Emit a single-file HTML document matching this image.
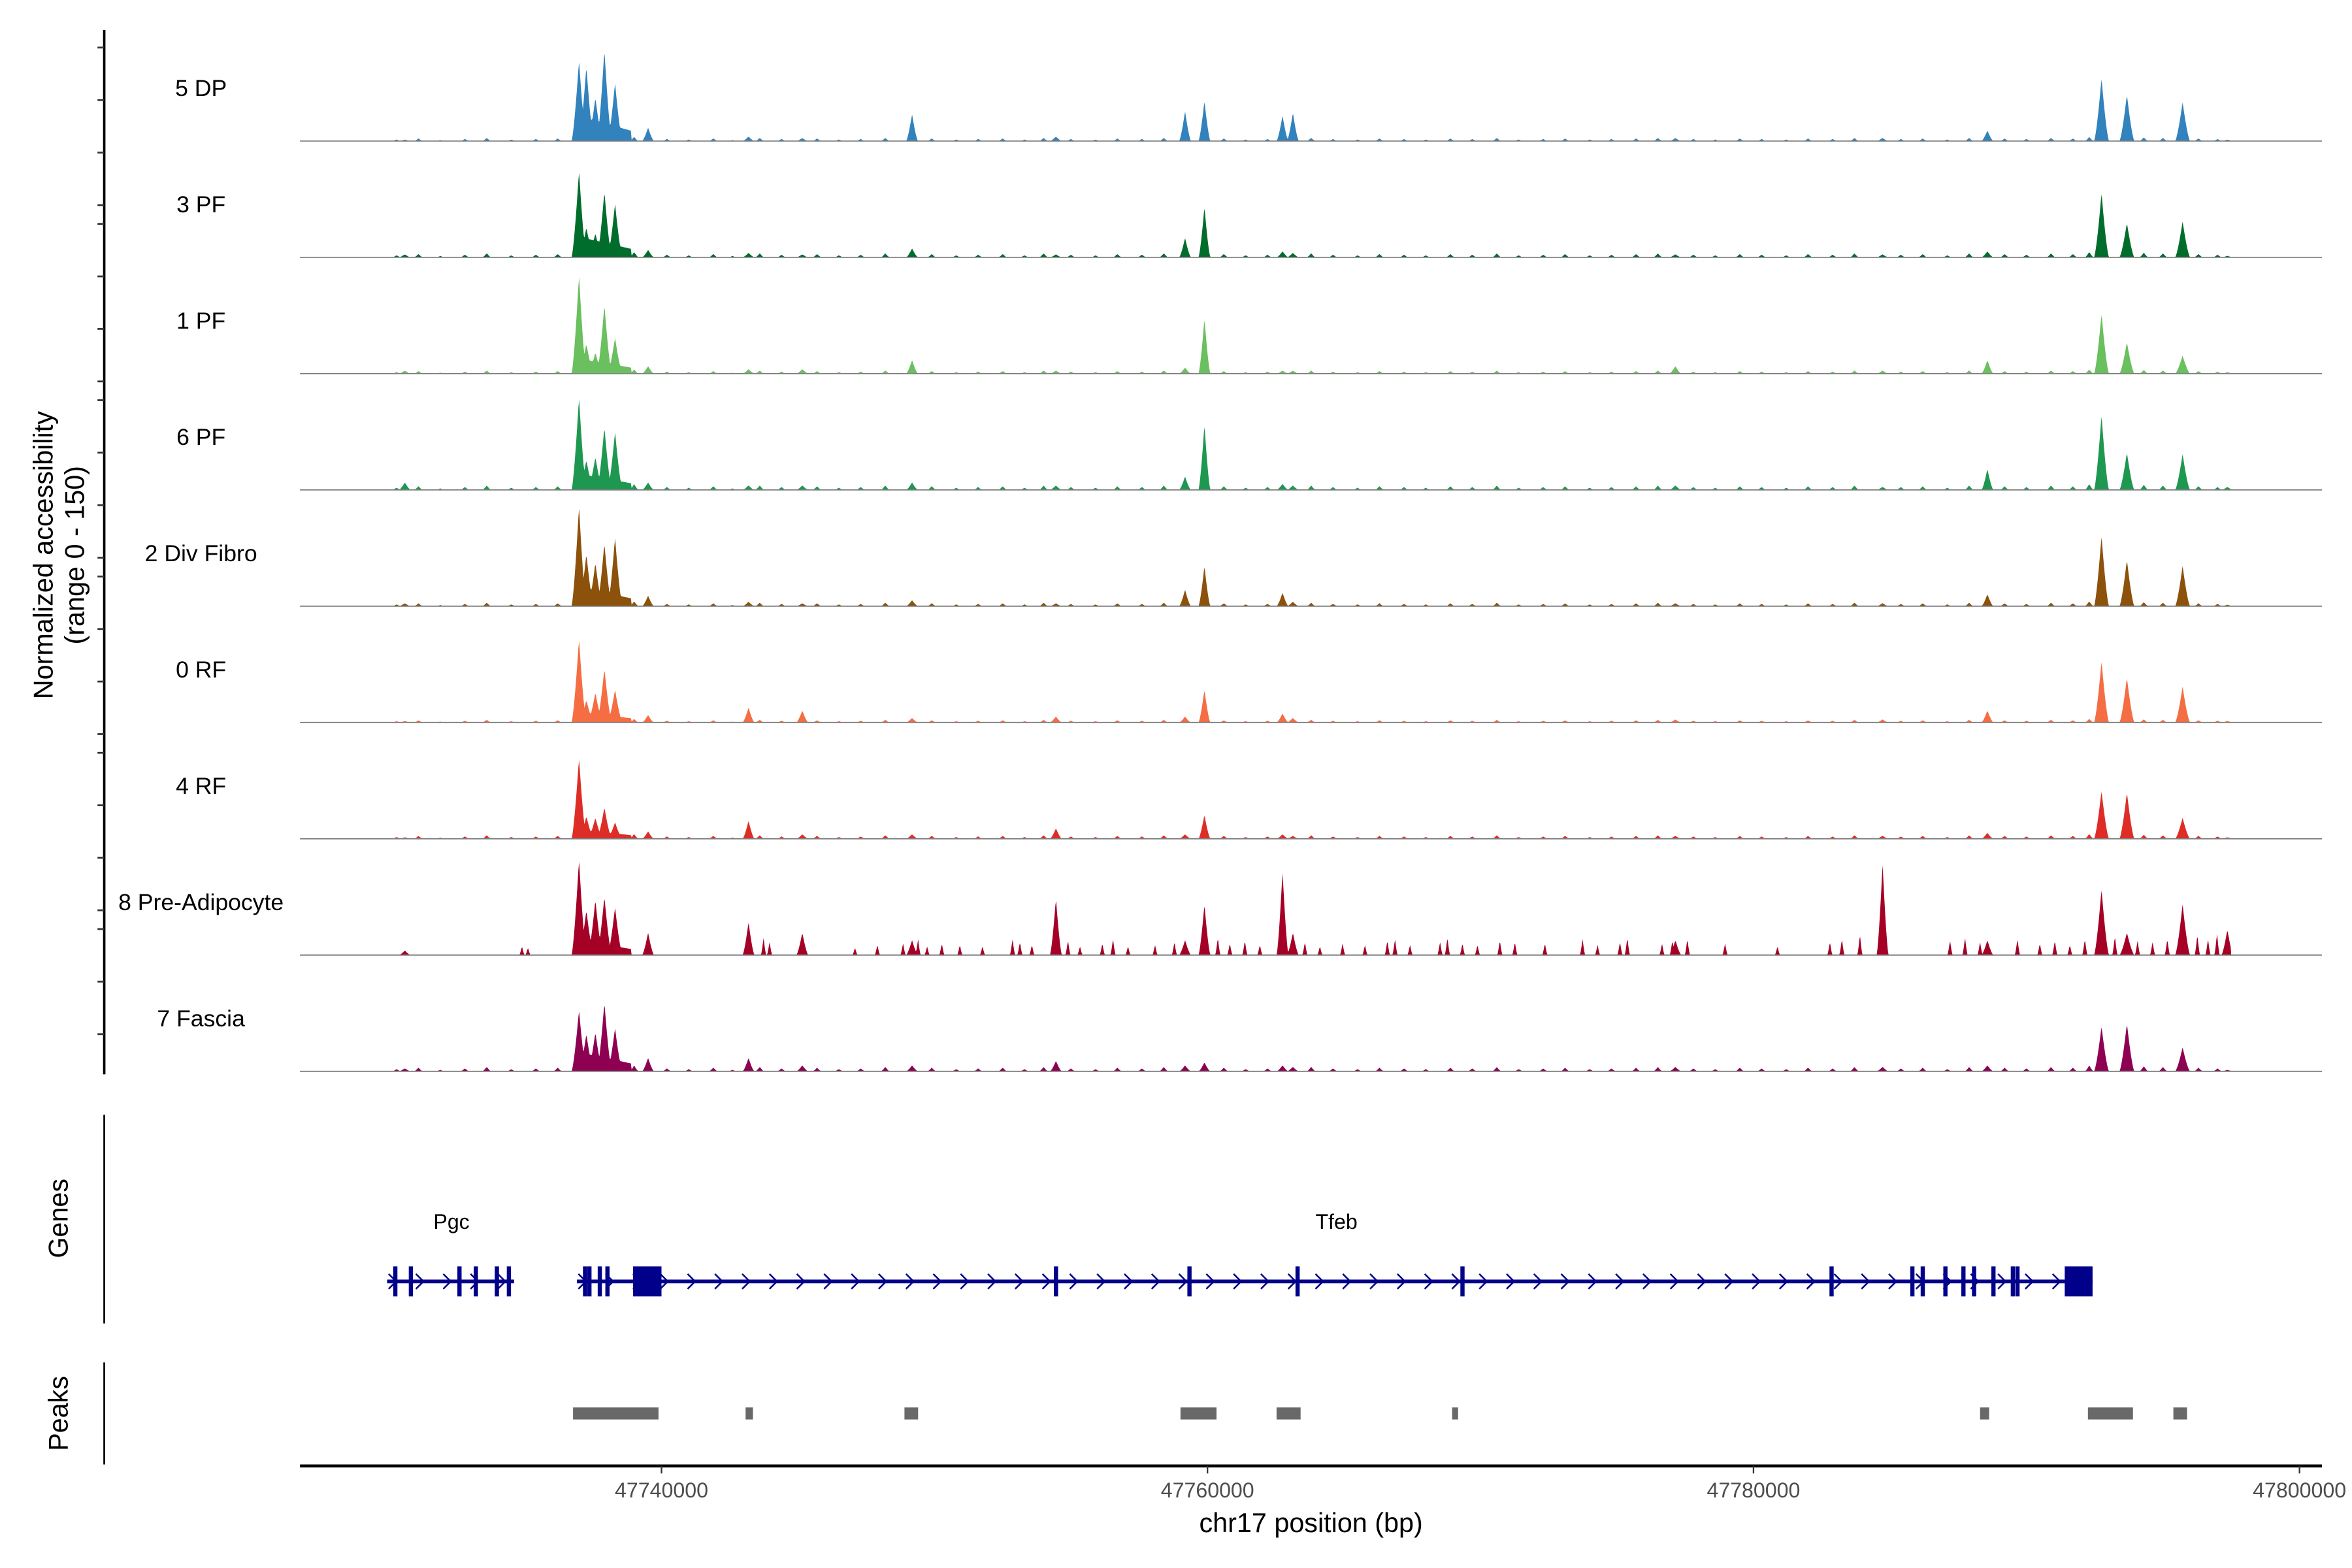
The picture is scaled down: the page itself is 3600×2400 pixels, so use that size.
<!DOCTYPE html>
<html><head><meta charset="utf-8"><style>
html,body{margin:0;padding:0;background:#fff}
svg{display:block}
text{font-family:"Liberation Sans",Arial,sans-serif}
</style></head><body>
<svg id="chart" xmlns="http://www.w3.org/2000/svg" width="3600" height="2400" viewBox="0 0 1568 1045" preserveAspectRatio="none">
<rect width="1568" height="1045" fill="#fff"/>
<g id="tracks"></g>
<g id="axes"></g>
<g id="genes"></g>
<g id="peaks"></g>
</svg>
<script>
const NS="http://www.w3.org/2000/svg";
// ---- data ----
const trackNames=["5 DP","3 PF","1 PF","6 PF","2 Div Fibro","0 RF","4 RF","8 Pre-Adipocyte","7 Fascia"];
const trackColors=["#3182BD","#006D2C","#6ABF5E","#1E9850","#8C510A","#F46D43","#DE2D26","#A50026","#8E0152"];
const peakPosKb=[47736.98,47737.25,47737.58,47737.91,47738.30,47739.51,47743.19,47745.16,47749.18,47754.45,47759.18,47759.89,47762.75,47763.13,47777.14,47784.73,47788.57,47792.75,47793.68,47795.72,47730.60,47797.36];
const peakHeights=[
 [108,100,58,122,78,18,6,4,36,6,40,54,34,38,4,4,14,84,62,52,2,2],
 [116,40,32,88,72,10,6,4,12,4,26,68,8,6,4,4,8,86,46,48,4,2],
 [132,40,28,92,48,10,6,6,18,4,8,74,4,4,10,4,18,80,42,24,4,2],
 [124,40,44,84,78,10,6,6,10,6,18,88,8,6,6,4,28,100,50,48,10,4],
 [134,70,58,84,92,14,6,4,8,4,22,54,18,6,4,4,16,94,62,54,4,2],
 [112,30,40,72,44,10,20,16,6,8,8,44,12,6,4,4,16,82,60,48,2,2],
 [108,30,28,42,22,10,24,6,6,14,6,32,6,4,4,4,8,64,62,28,2,2],
 [128,60,74,78,64,30,44,30,20,76,20,68,112,30,20,122,20,88,30,68,6,34],
 [82,50,52,92,58,18,18,8,8,14,8,12,8,6,6,6,8,60,64,32,4,2]
];
const clusterFloor=[34,28,20,22,26,14,12,20,26];
const preAdipoSmallKb=[47734.89,47735.11,47743.74,47743.96,47747.09,47747.91,47748.85,47749.40,47749.73,47750.27,47750.93,47751.76,47752.86,47753.13,47753.57,47754.89,47755.33,47756.15,47756.54,47757.09,47758.08,47758.79,47760.38,47760.82,47761.37,47761.92,47763.57,47764.12,47764.95,47765.77,47766.59,47766.87,47767.42,47768.52,47768.79,47769.34,47769.89,47770.71,47771.26,47772.36,47773.74,47774.29,47775.11,47775.38,47776.65,47777.03,47777.58,47778.96,47780.88,47782.80,47783.24,47783.90,47787.20,47787.75,47788.30,47789.67,47790.49,47791.04,47791.59,47792.14,47793.24,47794.07,47794.62,47795.16,47796.26,47796.65,47796.98];
const preAdipoSmallH=[12,10,24,18,10,14,16,22,12,16,14,12,22,18,14,20,12,16,22,12,14,18,24,16,20,14,18,12,16,14,20,22,14,18,24,16,14,20,18,16,22,14,18,24,16,20,22,16,12,18,22,28,20,24,18,22,16,20,14,22,26,20,18,22,28,22,30];
const bgPosKb=[47730.3,47731.1,47731.9,47732.8,47733.6,47734.5,47735.4,47736.2,47739.0,47740.2,47741.0,47741.9,47742.6,47743.6,47744.4,47745.7,47746.5,47747.3,47748.2,47749.9,47750.8,47751.6,47752.5,47753.3,47754.0,47755.0,47755.9,47756.7,47757.6,47758.4,47760.6,47761.4,47762.2,47763.8,47764.6,47765.5,47766.3,47767.2,47768.0,47768.9,47769.7,47770.6,47771.4,47772.3,47773.1,47774.0,47774.8,47775.7,47776.5,47777.8,47778.6,47779.5,47780.3,47781.2,47782.0,47782.9,47783.7,47785.4,47786.2,47787.1,47787.9,47789.2,47790.0,47790.9,47791.7,47792.3,47794.3,47795.0,47796.3,47797.0];
const bgPattern=[3,5,2,4,6,3,4,5,8,4,3,5,2,6,4,5,3,4,6,5,3,4,5,3,6,4,3,5,4,6,5,3,4,6,4,3,5,4,3,5,4,6,3,4,5,3,4,5,6,4,3,5,4,3,5,4,6,4,5,3,6,5,4,6,5,8,7,6,5,4];
const bgScale=[0.7,0.9,0.7,1.0,0.8,0.6,0.8,0,1.0];
const xTicks=[47740000,47760000,47780000,47800000];
const xTickLabels=["47740000","47760000","47780000","47800000"];
const pgcExons=[47730.25,47730.82,47732.60,47733.20,47733.97,47734.41];
const tfebExons=[47737.20,47737.36,47737.74,47738.02,47754.45,47759.34,47763.30,47769.34,47782.86,47785.82,47786.20,47787.03,47787.69,47788.08,47788.79,47789.50,47789.67];
const tfebUtr=[[47738.96,47740.00],[47791.40,47792.42]];
const peakRegions=[[47736.76,47739.89],[47743.08,47743.35],[47748.90,47749.40],[47759.01,47760.33],[47762.53,47763.41],[47768.96,47769.18],[47788.30,47788.63],[47792.25,47793.90],[47795.38,47795.88]];
// ---- scales ----
const x0=441,pxPer20k=364;
function xs(kb){return x0+(kb*1000-47740000)/20000*pxPer20k;}
const baselines=[94,171.5,249,326.5,404,481.5,559,636.5,714];
const yPer=75/150;
function mk(tag,attrs,parent){const e=document.createElementNS(NS,tag);for(const k in attrs)e.setAttribute(k,attrs[k]);parent.appendChild(e);return e;}
const tracks=document.getElementById('tracks');
const xStart=xs(47730.2),xEnd=xs(47797.5);
trackNames.forEach((name,t)=>{
  const g=mk('g',{},tracks);
  
  
  const b=baselines[t];
  const peaks=[];
  peakPosKb.forEach((p,i)=>peaks.push([xs(p),peakHeights[t][i],i<5?5:(i>=17&&i<=19?5:4)]));
  if(t===7)preAdipoSmallKb.forEach((p,i)=>peaks.push([xs(p),preAdipoSmallH[i],1.8]));
  bgPosKb.forEach((p,i)=>peaks.push([xs(p),bgPattern[i]*bgScale[t],3]));
  const cf0=xs(47736.9),cf1=xs(47738.9);
  let d='M'+xStart+','+b;
  for(let x=xStart;x<=xEnd;x+=0.5){
    let v=0;
    for(const [px,h,w] of peaks){const dd=Math.abs(x-px);if(dd<w){const c=h*Math.pow(1-dd/w,1.4);if(c>v)v=c;}}
    if(x>=cf0&&x<=cf1){const f=clusterFloor[t]*(1-0.6*(x-cf0)/(cf1-cf0));if(f>v)v=f;}
    d+='L'+x.toFixed(1)+','+(b-v*yPer).toFixed(1);
  }
  d+='L'+xEnd+','+b+'Z';
  const area=mk('path',{d:d,fill:trackColors[t],stroke:'none'},g);
  
  
  const bl=mk('line',{x1:200,x2:1548,y1:b,y2:b,stroke:'#7f7f7f','stroke-width':0.8},g);
  
  
  const lab=mk('text',{x:134,y:b-30,'font-size':15.5,'text-anchor':'middle',fill:'#000'},g);
  lab.textContent=name;
  
  
});
// ---- axes ----
const ax=document.getElementById('axes');
mk('line',{x1:69.5,x2:69.5,y1:20,y2:716,stroke:'#000','stroke-width':1.6},ax);
for(let g=0;g<6;g++){for(let j=0;j<4;j++){const y=31.7+g*117.5+j*35;if(y<716)mk('line',{x1:65,x2:69.5,y1:y,y2:y,stroke:'#333','stroke-width':1.2},ax);}}
const yt=mk('text',{transform:'translate(35,370) rotate(-90)','font-size':18,'text-anchor':'middle'},ax);yt.textContent='Normalized accessibility';

const yt2=mk('text',{transform:'translate(56,370) rotate(-90)','font-size':18,'text-anchor':'middle'},ax);yt2.textContent='(range 0 - 150)';

mk('line',{x1:69.5,x2:69.5,y1:743,y2:882,stroke:'#000','stroke-width':1.2},ax);
const gt=mk('text',{transform:'translate(45,812) rotate(-90)','font-size':18,'text-anchor':'middle'},ax);gt.textContent='Genes';

mk('line',{x1:69.5,x2:69.5,y1:908,y2:976,stroke:'#000','stroke-width':1.2},ax);
const pt=mk('text',{transform:'translate(45,942) rotate(-90)','font-size':18,'text-anchor':'middle'},ax);pt.textContent='Peaks';

mk('line',{x1:200,x2:1548,y1:977,y2:977,stroke:'#000','stroke-width':2},ax);
xTicks.forEach((v,i)=>{const x=xs(v/1000);
  mk('line',{x1:x,x2:x,y1:977,y2:982,stroke:'#333','stroke-width':1},ax);
  const t=mk('text',{x:x,y:998,'font-size':14,'text-anchor':'middle',fill:'#4d4d4d'},ax);t.textContent=xTickLabels[i];
  });
const xt=mk('text',{x:874,y:1021,'font-size':18,'text-anchor':'middle'},ax);xt.textContent='chr17 position (bp)';

// ---- genes ----
const gg=document.getElementById('genes');const GC='#00008B';const gy=854;
function gene(s,e,exons,utr,label,lx){
  mk('line',{x1:xs(s),x2:xs(e),y1:gy,y2:gy,stroke:GC,'stroke-width':2.5},gg);
  for(let x=xs(s)+4;x<xs(e)-4;x+=18.2)mk('path',{d:`M${x-3},${gy-5}L${x+2},${gy}L${x-3},${gy+5}`,fill:'none',stroke:GC,'stroke-width':1.1},gg);
  exons.forEach(p=>mk('rect',{x:xs(p)-1.4,y:gy-10,width:2.8,height:20,fill:GC},gg));
  utr.forEach(u=>mk('rect',{x:xs(u[0]),y:gy-10,width:xs(u[1])-xs(u[0]),height:20,fill:GC},gg));
  const t=mk('text',{x:lx,y:819,'font-size':14,'text-anchor':'middle'},gg);t.textContent=label;
  
}
gene(47729.95,47734.60,pgcExons,[],'Pgc',301);
gene(47736.90,47792.42,tfebExons,tfebUtr,'Tfeb',891);
// ---- peaks ----
const pg=document.getElementById('peaks');
peakRegions.forEach(r=>{const e=mk('rect',{x:xs(r[0]),y:938,width:Math.max(2.5,xs(r[1])-xs(r[0])),height:8,fill:'#696969'},pg);
  });
</script>
</body></html>
